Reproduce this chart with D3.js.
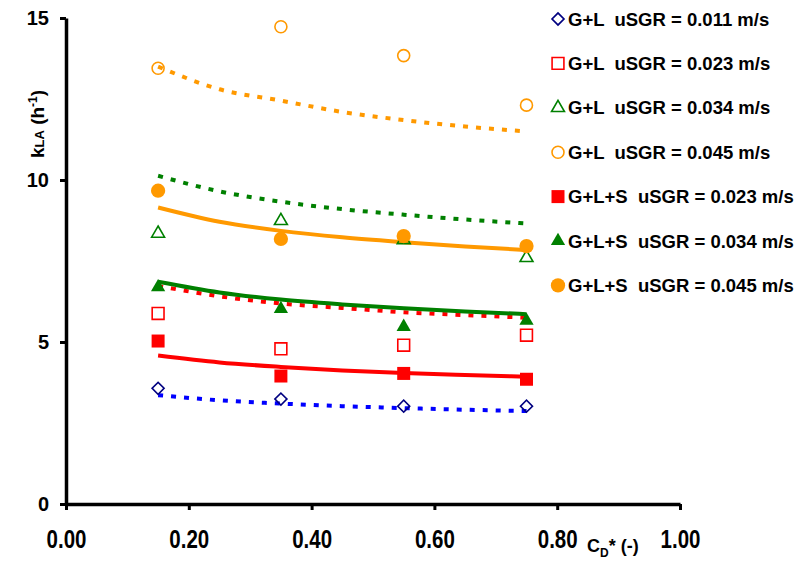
<!DOCTYPE html>
<html>
<head>
<meta charset="utf-8">
<script src="https://cdn.jsdelivr.net/npm/d3@7"></script>
<style>
  body { margin: 0; background: #fff; }
  svg { display: block; font-family: 'Liberation Sans', Arial, sans-serif; font-weight: bold; }
</style>
</head>
<body>
<svg id="chart" width="800" height="561"></svg>
<script>
// measured points (CD* positions)
const cdValues = [0.15, 0.35, 0.55, 0.75]
const glU011 = [3.57, 3.24, 3.02, 3.02]
const glU023 = [5.88, 4.79, 4.90, 5.21]
const glU034 = [8.35, 8.74, 8.15, 7.60]
const glU045 = [13.45, 14.73, 13.84, 12.31]
const glsU023 = [5.03, 3.95, 4.03, 3.85]
const glsU034 = [6.69, 6.02, 5.47, 5.66]
const glsU045 = [9.67, 8.18, 8.27, 7.96]

// fitted curves
const fitCd = [0.15, 0.25, 0.35, 0.45, 0.55, 0.65, 0.75]
const fitGlU011 = [3.36, 3.20, 3.10, 3.02, 2.96, 2.91, 2.87]
const fitGlU023 = [6.73, 6.41, 6.19, 6.05, 5.92, 5.83, 5.75]
const fitGlU034 = [10.13, 9.65, 9.33, 9.10, 8.93, 8.78, 8.66]
const fitGlU045 = [13.50, 12.80, 12.45, 12.10, 11.85, 11.65, 11.50]
const fitGlsU023 = [4.58, 4.37, 4.23, 4.12, 4.04, 3.98, 3.93]
const fitGlsU034 = [6.86, 6.53, 6.31, 6.16, 6.04, 5.94, 5.86]
const fitGlsU045 = [9.15, 8.71, 8.43, 8.23, 8.08, 7.95, 7.84]

const xTicks = [0, 0.2, 0.4, 0.6, 0.8, 1.0]
const yTicks = [0, 5, 10, 15]
const legendLabels = [
  'G+L  uSGR = 0.011 m/s',
  'G+L  uSGR = 0.023 m/s',
  'G+L  uSGR = 0.034 m/s',
  'G+L  uSGR = 0.045 m/s',
  'G+L+S  uSGR = 0.023 m/s',
  'G+L+S  uSGR = 0.034 m/s',
  'G+L+S  uSGR = 0.045 m/s'
]

const blue = '#0000ff'
const navy = '#000080'
const red = '#ff0000'
const green = '#008000'
const orange = '#ff9900'

const svg = d3.select('#chart')
const x = d3.scaleLinear().domain([0, 1]).range([66, 680])
const y = d3.scaleLinear().domain([0, 15]).range([504, 18])

// axes
const xAxis = svg.append('g')
  .attr('transform', `translate(0,${y(0)})`)
  .call(d3.axisBottom(x).tickValues(xTicks).tickSize(6).tickSizeOuter(0).tickFormat(d3.format('.2f')))
const yAxis = svg.append('g')
  .attr('transform', `translate(${x(0)},0)`)
  .call(d3.axisLeft(y).tickValues(yTicks).tickSize(6).tickSizeOuter(0).tickPadding(11))

;[xAxis, yAxis].forEach((g) => {
  g.select('.domain').attr('stroke', '#000').attr('stroke-width', 3.5)
  g.selectAll('.tick line').attr('stroke', '#000').attr('stroke-width', 3)
  g.attr('font-family', null).attr('font-size', null)
})
// x labels look tall and narrow in the original: squeeze them sideways
xAxis.selectAll('.tick text')
  .attr('y', 44).attr('dy', null)
  .attr('transform', 'scale(0.82,1)')
  .attr('font-size', 25).attr('fill', '#000')
yAxis.selectAll('.tick text').attr('font-size', 20).attr('fill', '#000')

// axis titles
const yTitle = svg.append('text')
  .attr('transform', 'translate(44,124) rotate(-90)')
  .attr('text-anchor', 'middle')
  .attr('font-size', 19)
yTitle.append('tspan').text('k')
yTitle.append('tspan').attr('font-size', 13).text('LA')
yTitle.append('tspan').text(' (h')
yTitle.append('tspan').attr('font-size', 12).attr('dy', -7).text('-1')
yTitle.append('tspan').attr('dy', 7).text(')')

const xTitle = svg.append('text')
  .attr('x', 587).attr('y', 552)
  .attr('font-size', 18)
xTitle.append('tspan').text('C')
xTitle.append('tspan').attr('font-size', 12).attr('dy', 5).text('D')
xTitle.append('tspan').attr('dy', -5).text('* (-)')

// fit lines
const fits = [
  { values: fitGlU011, color: blue, dashed: true },
  { values: fitGlU023, color: red, dashed: true },
  { values: fitGlU034, color: green, dashed: true },
  { values: fitGlU045, color: orange, dashed: true },
  { values: fitGlsU023, color: red, dashed: false },
  { values: fitGlsU034, color: green, dashed: false },
  { values: fitGlsU045, color: orange, dashed: false }
]
const line = d3.line()
  .x((d) => x(d[0]))
  .y((d) => y(d[1]))
  .curve(d3.curveMonotoneX)

fits.forEach((f) => {
  svg.append('path')
    .attr('d', line(fitCd.map((c, i) => [c, f.values[i]])))
    .attr('fill', 'none')
    .attr('stroke', f.color)
    .attr('stroke-width', 4)
    .attr('stroke-dasharray', f.dashed ? '5,8' : null)
})

// marker series
const series = [
  { values: glU011, color: navy, shape: 'diamond', filled: false },
  { values: glU023, color: red, shape: 'square', filled: false },
  { values: glU034, color: green, shape: 'triangle', filled: false },
  { values: glU045, color: orange, shape: 'circle', filled: false },
  { values: glsU023, color: red, shape: 'square', filled: true },
  { values: glsU034, color: green, shape: 'triangle', filled: true },
  { values: glsU045, color: orange, shape: 'circle', filled: true }
]

const symbolPath = (shape, filled) => {
  if (shape === 'diamond') return d3.symbol(d3.symbolSquare, 72)()
  if (shape === 'square') return d3.symbol(d3.symbolSquare, filled ? 169 : 140)()
  if (shape === 'triangle') return d3.symbol(d3.symbolTriangle, filled ? 88 : 72)()
  return d3.symbol(d3.symbolCircle, filled ? 160 : 113)()
}

const drawMarker = (g, s) => {
  g.append('path')
    .attr('d', symbolPath(s.shape, s.filled))
    .attr('transform', s.shape === 'diamond' ? 'rotate(45)' : null)
    .attr('fill', s.filled ? s.color : 'none')
    .attr('stroke', s.color)
    .attr('stroke-width', s.filled ? 0 : 1.6)
}

series.forEach((s) => {
  s.values.forEach((v, i) => {
    const g = svg.append('g').attr('transform', `translate(${x(cdValues[i])},${y(v)})`)
    drawMarker(g, s)
  })
})

// legend
series.forEach((s, i) => {
  const row = svg.append('g').attr('transform', `translate(558,${19 + i * 44.4})`)
  drawMarker(row, s)
  row.append('text')
    .attr('x', 10)
    .attr('dy', '0.36em')
    .attr('font-size', 18.5)
    .attr('fill', '#000')
    .style('white-space', 'pre')
    .text(legendLabels[i])
})
</script>
</body>
</html>
